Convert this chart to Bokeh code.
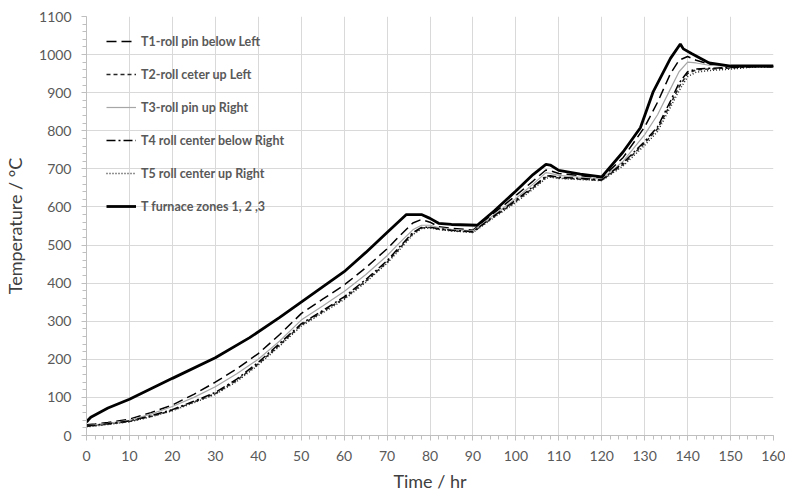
from bokeh.plotting import figure
from bokeh.models import Legend, LegendItem, SingleIntervalTicker, Range1d
from bokeh.embed import file_html
from bokeh.resources import INLINE

# ---- data ----
t_roll = [0, 2, 5, 10, 15, 20, 25, 30, 35, 40, 45, 50, 55, 60, 65, 70, 73, 76, 78, 80,
          82, 85, 90, 95, 100, 104, 107, 108, 110, 115, 120, 125, 130, 133, 136, 138,
          140, 142, 145, 150, 155, 160]
T1 = [28, 30, 34, 43, 60, 80, 108, 140, 175, 215, 265, 320, 358, 395, 440, 490, 525, 558, 567, 560,
      548, 544, 539, 585, 630, 668, 697, 695, 688, 682, 676, 730, 810, 875, 950, 985,
      995, 985, 975, 970, 970, 970]
T2 = [24, 26, 30, 37, 50, 66, 88, 110, 145, 188, 238, 290, 325, 360, 405, 455, 492, 530, 545, 546,
      542, 538, 534, 575, 615, 650, 678, 680, 676, 673, 670, 712, 768, 805, 870, 915,
      950, 960, 962, 965, 968, 968]
T3 = [26, 28, 32, 40, 56, 76, 100, 128, 162, 200, 248, 303, 340, 378, 422, 472, 507, 540, 552, 552,
      546, 541, 537, 580, 622, 660, 690, 688, 683, 678, 673, 720, 790, 842, 910, 955,
      980, 978, 972, 969, 969, 969]
T4 = [25, 27, 31, 38, 52, 68, 90, 113, 148, 192, 242, 293, 328, 364, 409, 459, 496, 533, 546, 547,
      543, 539, 535, 577, 618, 653, 681, 682, 678, 675, 671, 716, 772, 810, 878, 925,
      955, 962, 964, 966, 968, 968]
T5 = [23, 25, 29, 36, 49, 65, 86, 108, 142, 185, 235, 287, 322, 357, 402, 452, 489, 527, 543, 545,
      541, 537, 533, 573, 612, 647, 675, 678, 675, 672, 669, 708, 762, 798, 862, 905,
      942, 954, 958, 962, 967, 968]

t_furn = [0, 0.5, 1, 5, 10, 20, 30, 38, 45, 50, 60, 65, 70, 74.5, 78, 80, 82, 85, 91, 95, 100,
          104, 107, 108, 110, 115, 120, 125, 129, 132, 136, 138.3, 139, 141, 145, 150, 155, 160]
T_furn = [35, 42, 48, 72, 95, 150, 204, 257, 310, 350, 430, 480, 533, 580, 580, 570, 557, 554, 552,
          590, 642, 685, 712, 710, 696, 686, 679, 745, 808, 903, 990, 1028, 1015, 1002, 978, 970, 970, 970]

labels = ["T1-roll pin below Left", "T2-roll ceter up Left", "T3-roll pin up Right",
          "T4 roll center below Right", "T5 roll center up Right", "T furnace zones 1, 2 ,3"]

p = figure(width=785, height=494, output_backend="svg", toolbar_location=None,
           x_range=Range1d(0, 160), y_range=Range1d(0, 1100),
           min_border_left=86, min_border_right=12, min_border_top=16, min_border_bottom=58)
p.outline_line_color = None
p.background_fill_color = "white"

r1 = p.line(t_roll, T1, line_color="black", line_width=1.5, line_dash="10 5")
r2 = p.line(t_roll, T2, line_color="#262626", line_width=1.5, line_dash="4 3")
r3 = p.line(t_roll, T3, line_color="#a6a6a6", line_width=1.2)
r4 = p.line(t_roll, T4, line_color="black", line_width=1.5, line_dash="9 3 2 3")
r5 = p.line(t_roll, T5, line_color="#262626", line_width=1.5, line_dash="1 2")
r6 = p.line(t_furn, T_furn, line_color="black", line_width=2.8)

legend = Legend(items=[LegendItem(label=l, renderers=[r]) for l, r in
                       zip(labels, [r1, r2, r3, r4, r5, r6])],
                location=(20, 219), orientation="vertical")
legend.background_fill_alpha = 0
legend.border_line_color = None
legend.spacing = 13
legend.glyph_width = 30
legend.glyph_height = 20
legend.label_height = 20
legend.label_standoff = 5
legend.padding = 5
legend.margin = 0
legend.label_text_font = "Lato"
legend.label_text_font_style = "bold"
legend.label_text_font_size = "12.5px"
legend.label_text_color = "#595959"
p.add_layout(legend, "center")

p.xaxis.ticker = SingleIntervalTicker(interval=10, num_minor_ticks=5)
p.yaxis.ticker = SingleIntervalTicker(interval=100, num_minor_ticks=5)
for ax in (p.xaxis, p.yaxis):
    ax.axis_line_color = "#bfbfbf"
    ax.major_tick_line_color = "#bfbfbf"
    ax.minor_tick_line_color = "#bfbfbf"
    ax.major_tick_in = 0
    ax.major_tick_out = 5
    ax.minor_tick_in = 0
    ax.minor_tick_out = 4
    ax.major_label_text_font = "Lato"
    ax.major_label_text_font_size = "14px"
    ax.major_label_text_color = "#595959"
    ax.axis_label_text_font = "Lato"
    ax.axis_label_text_font_size = "18px"
    ax.axis_label_text_font_style = "normal"
    ax.axis_label_text_color = "#404040"
p.xaxis.axis_label = "Time / hr"
p.yaxis.axis_label = "Temperature / °C"
p.xaxis.major_label_standoff = 10
p.yaxis.major_label_standoff = 10
p.xaxis.axis_label_standoff = 6
p.yaxis.axis_label_standoff = 10

p.xgrid.grid_line_color = "#d9d9d9"
p.ygrid.grid_line_color = "#d9d9d9"

open("out.html", "w").write(file_html(p, INLINE))
